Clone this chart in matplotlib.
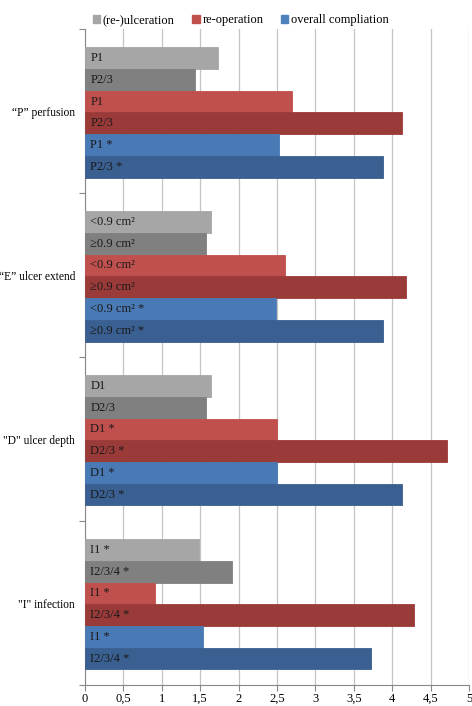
import numpy as np
import matplotlib.pyplot as plt

plt.rcParams['font.family'] = ['Liberation Serif', 'DejaVu Serif']

groups = ['\u201cP\u201d perfusion', '\u201cE\u201d ulcer extend', '"D" ulcer depth', '"I" infection']
series = ['(re-)ulceration', 're-operation', 'overall compliation']

# bar labels per group, top to bottom (ulceration x2, re-operation x2, compliance x2)
bar_labels = [
    ['P1', 'P2/3', 'P1', 'P2/3', 'P1 *', 'P2/3 *'],
    ['<0.9 cm\u00b2', '\u22650.9 cm\u00b2', '<0.9 cm\u00b2', '\u22650.9 cm\u00b2', '<0.9 cm\u00b2 *', '\u22650.9 cm\u00b2 *'],
    ['D1', 'D2/3', 'D1 *', 'D2/3 *', 'D1 *', 'D2/3 *'],
    ['I1 *', 'I2/3/4 *', 'I1 *', 'I2/3/4 *', 'I1 *', 'I2/3/4 *'],
]
bar_values = [
    [1.73, 1.43, 2.69, 4.13, 2.53, 3.88],
    [1.64, 1.58, 2.60, 4.18, 2.48, 3.88],
    [1.64, 1.57, 2.50, 4.71, 2.50, 4.13],
    [1.48, 1.91, 0.91, 4.28, 1.53, 3.72],
]
x_ticklabels = ['0', '0,5', '1', '1,5', '2', '2,5', '3', '3,5', '4', '4,5', '5']

bar_colors = ['#a6a6a6', '#808080', '#c0504d', '#9b3b39', '#4a7ab5', '#3a5f91']
legend_colors = ['#a6a6a6', '#c0504d', '#4f81bd']

fig = plt.figure(figsize=(4.72, 7.06), dpi=100)
ax = fig.add_axes([0.180, 0.0297, 0.814, 0.929])

pad = 0.11
bh = 0.1325
for g in range(len(groups)):
    for k in range(6):
        y = g + pad + (k + 0.5) * bh
        ax.barh(y, bar_values[g][k], height=bh, color=bar_colors[k],
                edgecolor=bar_colors[k], linewidth=0.6, zorder=3)
        ax.text(0.07, y, bar_labels[g][k], va='center', ha='left',
                fontsize=9, color='#1a1a1a', zorder=4)

ax.set_xlim(0, 5)
ax.set_ylim(4, 0)
ax.set_xticks(np.arange(0, 5.01, 0.5))
ax.set_xticklabels(x_ticklabels)
ax.set_yticks(range(5))
ax.set_yticklabels([])
ax.set_yticks([g + 0.5 for g in range(4)], minor=True)
ax.set_yticklabels(groups, minor=True)
ax.tick_params(axis='y', which='minor', length=0, labelsize=8.3, pad=7)
ax.tick_params(axis='y', which='major', length=4, color='#888888')
ax.tick_params(axis='x', length=4, color='#888888', labelsize=9, pad=1.5)

ax.grid(axis='x', color='#c4c4c4', linewidth=0.9, zorder=0)
for s in ['top', 'right']:
    ax.spines[s].set_visible(False)
ax.spines['left'].set_color('#888888')
ax.spines['bottom'].set_color('#888888')

handles = [plt.Rectangle((0, 0), 1, 1, color=c) for c in legend_colors]
fig.legend(handles, series, loc='upper center', bbox_to_anchor=(0.51, 0.996),
           ncol=3, frameon=False, fontsize=9, handlelength=0.6,
           handleheight=0.6, handletextpad=0.2, columnspacing=1.4)

fig.savefig('out.png', dpi=100)
